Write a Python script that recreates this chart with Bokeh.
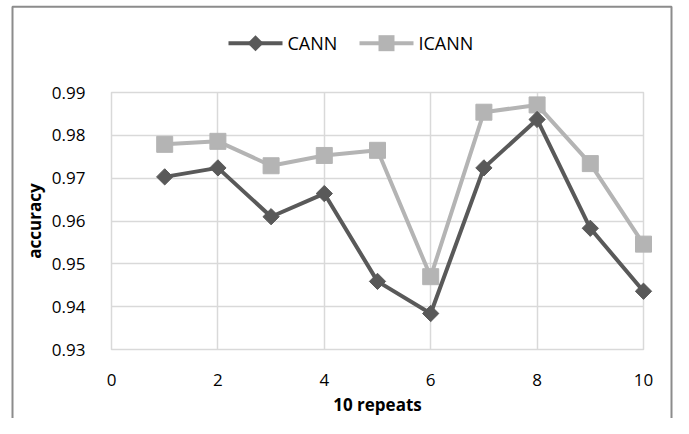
import math
from bokeh.plotting import figure
from bokeh.models import FixedTicker, PrintfTickFormatter, Range1d
from bokeh.core.properties import value
from bokeh.embed import file_html
from bokeh.resources import INLINE

repeats = [1, 2, 3, 4, 5, 6, 7, 8, 9, 10]
cann = [0.9703, 0.9724, 0.9610, 0.9664, 0.9459, 0.9384, 0.9724, 0.9837, 0.9583, 0.9436]
icann = [0.9779, 0.9786, 0.9729, 0.9753, 0.9765, 0.9470, 0.9854, 0.9871, 0.9734, 0.9546]
series_names = ["CANN", "ICANN"]
x_ticks = [0, 2, 4, 6, 8, 10]
y_ticks = [0.93, 0.94, 0.95, 0.96, 0.97, 0.98, 0.99]

FONT = "Open Sans"
DARK = "#595959"
LIGHT = "#b4b4b4"
GRID = "#d9d9d9"

W, H = 673, 418
BL, BR, BT, BB = 111, 30, 92, 68
X0, X1, Y0, Y1 = 0, 10, 0.93, 0.99

p = figure(width=W, height=H, output_backend="svg", toolbar_location=None,
           x_range=Range1d(X0, X1), y_range=Range1d(Y0, Y1),
           min_border_left=BL, min_border_right=BR, min_border_top=BT, min_border_bottom=BB)
p.background_fill_color = "white"
p.border_fill_color = "white"
p.outline_line_color = GRID
p.outline_line_width = 1.5

# pixel -> data helpers (for decorations outside the frame)
fw, fh = W - BL - BR, H - BT - BB
def dx(px):
    return X0 + (px - BL) / fw * (X1 - X0)
def dy(py):
    return Y0 + (H - BB - py) / fh * (Y1 - Y0)

# outer chart border (decoration)
p.line([dx(12), dx(12), dx(W - 2), dx(W - 2)], [dy(H + 20), dy(6), dy(6), dy(H + 20)],
       line_color="#8c8c8c", line_width=2, level="overlay")

p.xaxis.ticker = FixedTicker(ticks=x_ticks)
p.yaxis.ticker = FixedTicker(ticks=y_ticks)
p.xgrid.ticker = FixedTicker(ticks=x_ticks)
p.ygrid.ticker = FixedTicker(ticks=y_ticks)
p.yaxis.formatter = PrintfTickFormatter(format="%.2f")
p.xaxis.formatter = PrintfTickFormatter(format="%d")
for g in (p.xgrid, p.ygrid):
    g.grid_line_color = GRID
    g.grid_line_width = 1.5
for ax in (p.xaxis, p.yaxis):
    ax.axis_line_color = None
    ax.major_tick_line_color = None
    ax.minor_tick_line_color = None
    ax.major_label_text_font = FONT
    ax.major_label_text_font_size = "17px"
    ax.major_label_text_color = "#000000"
    ax.axis_label_text_font = FONT
    ax.axis_label_text_font_size = "17px"
    ax.axis_label_text_font_style = "bold"
    ax.axis_label_text_color = "#000000"
p.xaxis.axis_label = "10 repeats"
p.yaxis.axis_label = "accuracy"
p.xaxis.major_label_standoff = 18
p.yaxis.major_label_standoff = 20
p.xaxis.axis_label_standoff = 4
p.yaxis.axis_label_standoff = 3

p.line(repeats, icann, line_color=LIGHT, line_width=4)
p.scatter(repeats, icann, marker="square", size=16,
          fill_color=LIGHT, line_color=LIGHT, level="overlay")
p.line(repeats, cann, line_color=DARK, line_width=4, level="overlay")
p.scatter(repeats, cann, marker="square", angle=math.pi / 4, size=11.5,
          fill_color=DARK, line_color=DARK, level="overlay")

# legend (drawn above the plot frame)
LY = 42.5
for name, x_start, col, diamond in [(series_names[0], 228, DARK, True),
                                    (series_names[1], 359, LIGHT, False)]:
    p.line([dx(x_start), dx(x_start + 54)], [dy(LY), dy(LY)],
           line_color=col, line_width=4, level="overlay")
    cx = x_start + 27
    if diamond:
        # rotated square drawn as a thick butt-capped diagonal stroke
        p.line([dx(cx - 4), dx(cx + 4)], [dy(LY + 4), dy(LY - 4)],
               line_color=col, line_width=11.3, line_cap="butt", level="overlay")
    else:
        p.line([dx(cx - 8), dx(cx + 8)], [dy(LY), dy(LY)],
               line_color=col, line_width=16, line_cap="butt", level="overlay")
    p.text([dx(x_start + 59)], [dy(LY)], text=[name], text_font=value(FONT), text_font_size="18px",
           text_color="#000000", text_baseline="middle", text_align="left", level="overlay")

open("out.html", "w").write(file_html(p, INLINE))
